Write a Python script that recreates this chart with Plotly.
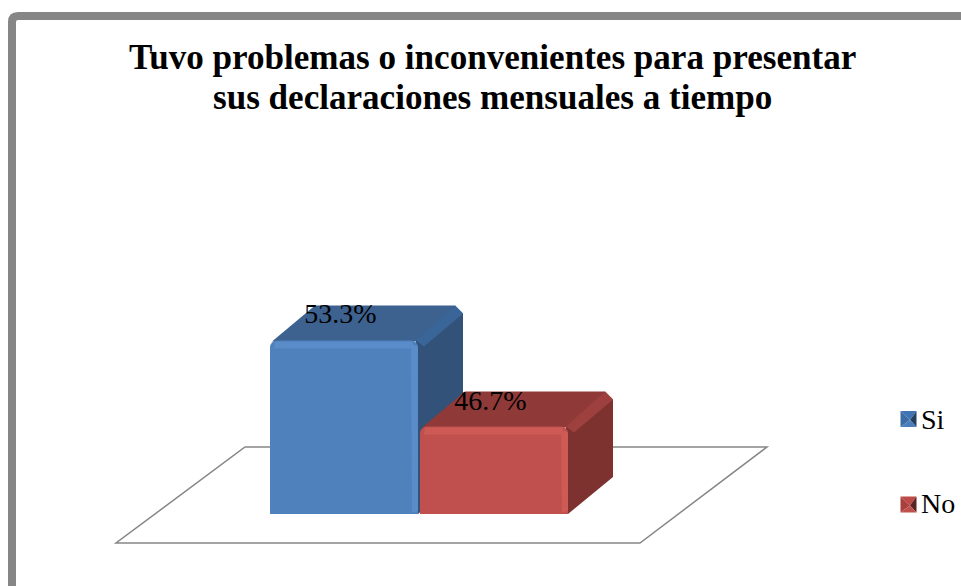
import plotly.graph_objects as go

categories = ["Si", "No"]
values = [53.3, 46.7]
labels = ["53.3%", "46.7%"]
title_lines = ["Tuvo problemas o inconvenientes para presentar", "sus declaraciones mensuales a tiempo"]

front_colors = ["#4F81BD", "#C0504D"]
light_colors = ["#5A8CC9", "#CE5A56"]
side_colors = ["#325279", "#7D3230"]
top_colors = ["#3D628F", "#8F3A38"]
edge_colors = ["#3A6599", "#9E413E"]
swatch_top = ["#3F74B4", "#BE4A48"]
swatch_left = ["#3C6CA6", "#A8403E"]
swatch_right = ["#24405F", "#5A2220"]
swatch_bottom = ["#4A7DBA", "#C0504D"]

W, H = 961, 586
BASE = 40.0
PX_X = 150.0           # pixels per category
PX_Y = 13.05           # pixels per value unit
X0, Y0 = 344.0, 514.0  # pixel position of category 0 / of the base value
BAR_W = 148 / PX_X
DX, DY = 45 / PX_X, 35 / PX_Y
XR = [-X0 / PX_X, (W - X0) / PX_X]
YR = [BASE - (H - Y0) / PX_Y, BASE + Y0 / PX_Y]
px, py = 1 / PX_X, 1 / PX_Y


def poly(pts, color, xa="x", ya="y"):
    return go.Scatter(x=[p[0] for p in pts] + [pts[0][0]], y=[p[1] for p in pts] + [pts[0][1]],
                      mode="lines", fill="toself", fillcolor=color, line=dict(width=0, color=color),
                      hoverinfo="skip", showlegend=False, xaxis=xa, yaxis=ya)


fig = go.Figure()

# depth faces (lower subplot layer)
for i, v in enumerate(values):
    xl, xr = i - BAR_W / 2, i + BAR_W / 2
    fig.add_trace(poly([(xl + 2 * px, v - 1 * py), (xl + DX, v + DY), (xr + DX - 8 * px, v + DY),
                        (xr + DX, v + DY - 8 * py), (xr, v - 1 * py)], top_colors[i]))
    fig.add_trace(poly([(xr - 2 * px, v), (xr + DX, v + DY - 8 * py), (xr + DX, BASE + DY + 2 * py),
                        (xr, BASE), (xr - 2 * px, BASE)], side_colors[i]))
    fig.add_trace(poly([(xr - 2 * px, v), (xr + DX - 8 * px, v + DY), (xr + DX, v + DY - 8 * py),
                        (xr + 6 * px, v - 6 * py)], edge_colors[i]))

# front faces (overlaid subplot, above every depth face)
fig.add_trace(go.Bar(x=[0, 1], y=[v - BASE for v in values], base=BASE, width=BAR_W,
                     marker=dict(color=front_colors, cornerradius=7, line=dict(width=0)),
                     hoverinfo="skip", showlegend=False, xaxis="x2", yaxis="y2"))
for i, v in enumerate(values):
    xl, xr = i - BAR_W / 2, i + BAR_W / 2
    # square off the foot of the bar
    fig.add_trace(poly([(xl, BASE), (xr, BASE), (xr, BASE + 9 * py), (xl, BASE + 9 * py)],
                       front_colors[i], "x2", "y2"))
    fig.add_trace(poly([(xl + 5 * px, v - 1 * py), (xr - 5 * px, v - 1 * py),
                        (xr - 7 * px, v - 8 * py), (xl + 4 * px, v - 8 * py)], light_colors[i], "x2", "y2"))
    fig.add_trace(poly([(xr - 7 * px, v - 3 * py), (xr, v - 6 * py), (xr, BASE + 3 * py),
                        (xr - 6 * px, BASE + 1 * py)], light_colors[i], "x2", "y2"))

fig.add_trace(go.Scatter(x=[i - 3.5 * px for i in range(2)], y=[v + 24 * py for v in values],
                         mode="text", text=labels, textposition="middle center",
                         textfont=dict(size=28, color="#000000", family="Liberation Serif"),
                         hoverinfo="skip", showlegend=False, xaxis="x2", yaxis="y2"))

# legend entries (the key symbols are drawn as bevelled swatches in the shapes below)
for i, c in enumerate(categories):
    fig.add_trace(go.Scatter(x=[None], y=[None], mode="markers", name=c, legendgroup=c,
                             marker=dict(symbol="square", size=15, color="rgba(0,0,0,0)"),
                             xaxis="x2", yaxis="y2"))


def fx(p):
    return p / W


def fy(p):
    return 1 - p / H


def tri(a, b, c, color):
    path = "M " + " L ".join(f"{fx(p[0]):.5f} {fy(p[1]):.5f}" for p in (a, b, c)) + " Z"
    return dict(type="path", xref="paper", yref="paper", path=path, fillcolor=color,
                line=dict(width=0), layer="below")


floor = [(116, 543), (640, 543), (767, 447), (245, 447)]
floor_path = "M " + " L ".join(f"{fx(a):.5f} {fy(b):.5f}" for a, b in floor) + " Z"
frame_path = (f"M {fx(12):.5f} {fy(600):.5f} L {fx(12):.5f} {fy(22):.5f} "
              f"Q {fx(12):.5f} {fy(16):.5f} {fx(18):.5f} {fy(16):.5f} L {fx(975):.5f} {fy(16):.5f}")

shapes = [
    dict(type="path", xref="paper", yref="paper", path=floor_path, layer="below",
         line=dict(color="#868686", width=1.5), fillcolor="#FFFFFF"),
    dict(type="path", xref="paper", yref="paper", path=frame_path, layer="below",
         line=dict(color="#868686", width=8)),
]
for i, yc in enumerate([419, 504.5]):
    l, r, t, b, cx, cy = 900.5, 916.5, yc - 8, yc + 8, 910, yc + 1
    shapes += [
        tri((l, t), (r, t), (cx, cy), swatch_top[i]),
        tri((l, t), (l, b), (cx, cy), swatch_left[i]),
        tri((r, t), (r, b), (cx, cy), swatch_right[i]),
        tri((l, b), (r, b), (cx, cy), swatch_bottom[i]),
    ]

axis = dict(visible=False, fixedrange=True)
fig.update_layout(
    width=W, height=H, autosize=False,
    margin=dict(l=0, r=0, t=0, b=0, autoexpand=False),
    paper_bgcolor="#FFFFFF", plot_bgcolor="rgba(0,0,0,0)",
    font=dict(family="Liberation Serif", color="#000000"),
    barmode="overlay",
    xaxis=dict(range=XR, domain=[0, 1], **axis),
    yaxis=dict(range=YR, domain=[0, 1], **axis),
    xaxis2=dict(range=XR, overlaying="x", **axis),
    yaxis2=dict(range=YR, overlaying="y", **axis),
    shapes=shapes,
    annotations=[
        dict(xref="paper", yref="paper", x=fx(492.5), y=fy(yc), text=f"<b>{t}</b>", showarrow=False,
             xanchor="center", yanchor="middle", font=dict(size=35.1, color="#000000", family="Liberation Serif"))
        for t, yc in zip(title_lines, [57, 97.5])
    ],
    legend=dict(x=fx(881), y=fy(460), xanchor="left", yanchor="middle", tracegroupgap=45,
                font=dict(size=28, family="Liberation Serif", color="#000000"),
                bgcolor="rgba(0,0,0,0)", itemclick=False, itemdoubleclick=False),
    showlegend=True,
)
fig.write_html("out.html", config=dict(displayModeBar=False, responsive=False),
               default_width="961px", default_height="586px",
               post_script="document.body.style.margin='0';document.body.style.overflow='hidden';")
